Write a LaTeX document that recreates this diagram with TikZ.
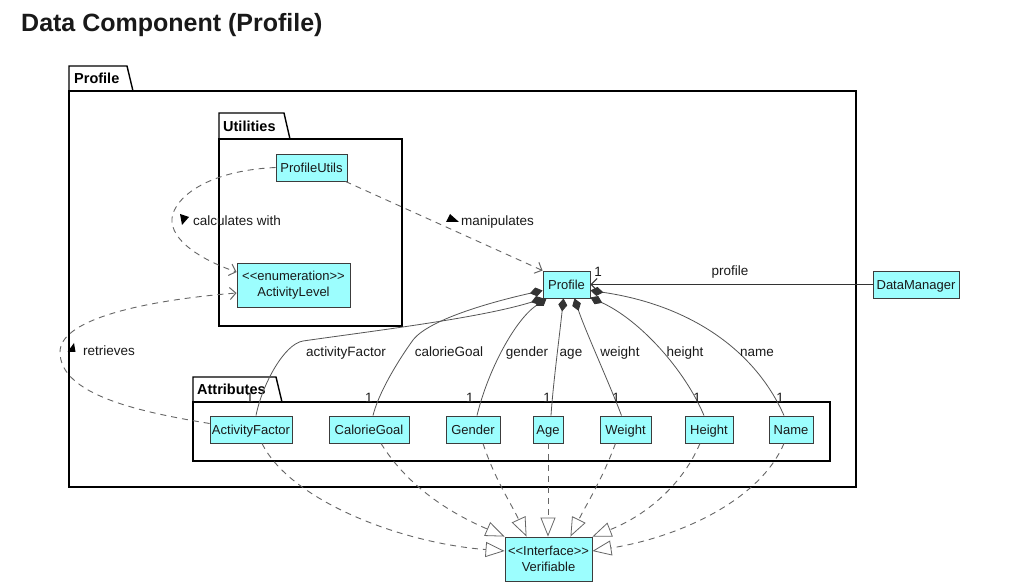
\documentclass[tikz,border=0pt]{standalone}
\usepackage{fontspec}
\setmainfont{Liberation Sans}
\usetikzlibrary{arrows.meta,calc}
\definecolor{clsfill}{HTML}{9CFEFE}
\definecolor{clsline}{HTML}{3C3C3C}
\definecolor{edgegray}{HTML}{555555}
\definecolor{dashgray}{HTML}{666666}
\definecolor{txt}{HTML}{1A1A1A}

\begin{document}
\begin{tikzpicture}[x=1pt,y=-1pt,
  cls/.style={draw=clsline, fill=clsfill, line width=0.9pt, minimum height=27pt,
    inner sep=0pt, align=center, font=\fontsize{13}{17}\selectfont, text=txt},
  oneline/.style={text height=11.8pt, text depth=2.6pt},
  pkg/.style={draw=black, line width=1.4pt},
  pkgname/.style={anchor=base west, inner sep=0pt, font=\bfseries\fontsize{14.5}{16}\selectfont},
  elabel/.style={anchor=base, inner sep=0pt, font=\fontsize{13.5}{15}\selectfont, text=txt},
  mult/.style={anchor=base, inner sep=0pt, font=\fontsize{13.5}{15}\selectfont, text=txt},
  depend/.style={draw=dashgray, line width=0.9pt, dash pattern=on 6pt off 5pt,
    -{Straight Barb[length=6pt,width=12pt,line width=1pt]}},
  comp/.style={draw=edgegray, line width=0.8pt,
    {Diamond[length=13pt,width=9pt,color=black!80]}-},
  assoc/.style={draw=black!80, line width=0.9pt,
    -{Straight Barb[length=6pt,width=12pt,line width=1pt]}},
  realize/.style={draw=dashgray, line width=0.9pt, dash pattern=on 6pt off 5pt,
    -{Triangle[fill=white,length=19pt,width=15pt,line width=0.8pt]}},
  dirmark/.style={fill=black},
]
\path[use as bounding box] (0,0) rectangle (1013,585);
\fill[white] (0,0) rectangle (1013,585);

% title
\node[anchor=base west, inner sep=0pt, font=\bfseries\fontsize{25}{28}\selectfont, text=black!90]
  (title) at (21,32) {Data Component (Profile)};

% packages
\draw[pkg] (69,91) rectangle (856,487);
\draw[pkg] (69,91) -- (69,66) -- (127,66) -- (133,91);
\node[pkgname] (pkgprofile) at (74,84) {Profile};

\draw[pkg] (219,139) rectangle (402,326);
\draw[pkg] (219,139) -- (219,113) -- (284,113) -- (290,139);
\node[pkgname] (pkgutil) at (223,132) {Utilities};

\draw[pkg] (193,402) rectangle (830,461);
\draw[pkg] (193,402) -- (193,377) -- (276,377) -- (282,402);
\node[pkgname] (pkgattr) at (197,395) {Attributes};

% classes
\node[cls, oneline, minimum width=71pt] (pu) at (311.5,167.5) {ProfileUtils};
\node[cls, minimum width=113pt, minimum height=44pt] (al) at (293.5,285)
  {<{}<enumeration>{}>\\[-1pt]ActivityLevel};
\node[cls, oneline, minimum width=47pt] (p) at (566.5,284.5) {Profile};
\node[cls, oneline, minimum width=86pt] (dm) at (916,284.5) {DataManager};

\node[cls, oneline, minimum width=82pt] (af) at (251,429.5) {ActivityFactor};
\node[cls, oneline, minimum width=80pt] (cg) at (369,429.5) {CalorieGoal};
\node[cls, oneline, minimum width=54pt] (ge) at (473,429.5) {Gender};
\node[cls, oneline, minimum width=30pt] (ag) at (548,429.5) {Age};
\node[cls, oneline, minimum width=51pt] (we) at (625.5,429.5) {Weight};
\node[cls, oneline, minimum width=48pt] (he) at (709,429.5) {Height};
\node[cls, oneline, minimum width=44pt] (na) at (791,429.5) {Name};

\node[cls, minimum width=87pt, minimum height=44pt] (vf) at (548.5,559)
  {<{}<Interface>{}>\\[-1pt]Verifiable};

% dependencies
\draw[depend] (pu.west) .. controls (200,171) and (170,203) .. (172,222)
  .. controls (174,245) and (210,263) .. ($(al.west)+(0,-13)$);
\node[elabel, anchor=base west] (lcalc) at (193,226) {calculates with};
\fill[dirmark] ($(lcalc.base west)+(-13,-12)$) -- ++(9,3) -- ++(-7,8) -- cycle;

\draw[depend] ($(pu.south east)+(-2,0)$) -- (p.north west);
\node[elabel, anchor=base west] (lmanip) at (461,226) {manipulates};
\fill[dirmark] ($(lmanip.base west)+(-11,-12)$) -- ++(9,8) -- ++(-13,0) -- cycle;

\draw[depend] ($(af.west)+(0,-6)$) .. controls (140,412) and (60,395) .. (60,352)
  .. controls (60,318) and (150,300) .. ($(al.west)+(0,8)$);
\node[elabel, anchor=base west] (lretr) at (83,356) {retrieves};
\fill[dirmark] ($(lretr.base west)+(-9,-13)$) -- ++(1.5,9) -- ++(-8,0) -- cycle;

% association from DataManager
\draw[assoc] (dm.west) -- (p.east);
\node[elabel] (lprof) at (730,276) {profile};
\node[mult] (mprof) at (598,277) {1};

% compositions
\draw[comp] ($(p.south west)+(1,0)$) .. controls (480,318) and (380,330) .. (303,341)
  .. controls (284,344) and (262,385) .. ($(af.north)+(5,0)$);
\draw[comp] ($(p.west)+(0,6)$) .. controls (500,300) and (430,318) .. (413,340)
  .. controls (395,365) and (378,395) .. ($(cg.north)+(4,0)$);
\draw[comp] ($(p.south west)+(4,0)$) .. controls (515,320) and (488,370) .. ($(ge.north)+(4,0)$);
\draw[comp] ($(p.south)+(-3,0)$) .. controls (559,340) and (553,385) .. ($(ag.north)+(3,0)$);
\draw[comp] ($(p.south)+(8,0)$) .. controls (585,330) and (610,385) .. ($(we.north)+(-4,0)$);
\draw[comp] ($(p.south east)+(0,-1)$) .. controls (640,320) and (685,370) .. ($(he.north)+(-5,0)$);
\draw[comp] ($(p.east)+(0,6)$) .. controls (690,305) and (755,350) .. ($(na.north)+(-7,0)$);

\node[elabel] (laf) at (346,356.5) {activityFactor};
\node[elabel] (lcg) at (449,356.5) {calorieGoal};
\node[elabel] (lge) at (527,356.5) {gender};
\node[elabel] (lag) at (571,356.5) {age};
\node[elabel] (lwe) at (620,356.5) {weight};
\node[elabel] (lhe) at (685,356.5) {height};
\node[elabel] (lna) at (757,356.5) {name};

\node[mult] (maf) at (250,403) {1};
\node[mult] (mcg) at (369,403) {1};
\node[mult] (mge) at (470,403) {1};
\node[mult] (mag) at (547,403) {1};
\node[mult] (mwe) at (616,403) {1};
\node[mult] (mhe) at (697,403) {1};
\node[mult] (mna) at (780,403) {1};

% realizations of Verifiable
\draw[realize] ($(af.south)+(11,0)$) .. controls (290,500) and (400,543) .. ($(vf.west)+(0,-8)$);
\draw[realize] ($(cg.south)+(12,0)$) .. controls (410,490) and (455,515) .. (vf.north west);
\draw[realize] ($(ge.south)+(10,0)$) .. controls (495,480) and (512,505) .. ($(vf.north west)+(22,0)$);
\draw[realize] (ag.south) -- (ag.south |- vf.north);
\draw[realize] ($(we.south)+(-10,0)$) .. controls (602,480) and (586,505) .. ($(vf.north east)+(-22,0)$);
\draw[realize] ($(he.south)+(-9,0)$) .. controls (680,490) and (640,518) .. (vf.north east);
\draw[realize] ($(na.south)+(-7,0)$) .. controls (760,500) and (680,537) .. ($(vf.east)+(0,-8)$);
\end{tikzpicture}
\end{document}
